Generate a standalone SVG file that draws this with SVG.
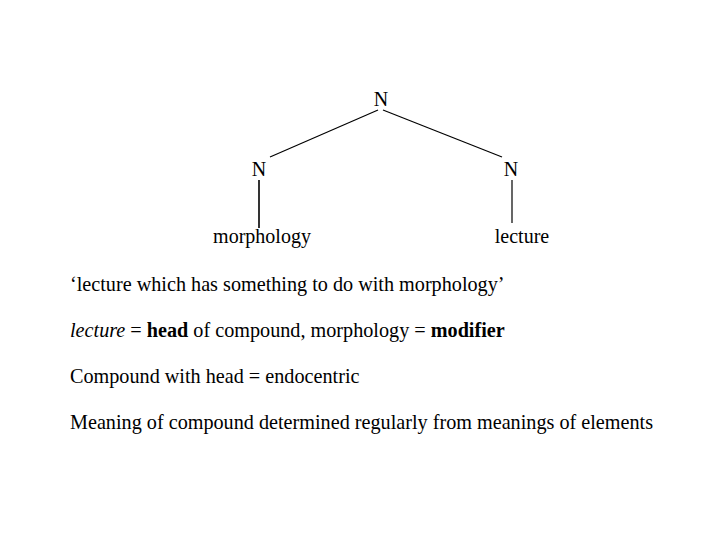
<svg xmlns="http://www.w3.org/2000/svg" width="720" height="540" viewBox="0 0 720 540">
<style>
text{font-family:"Liberation Serif","Times New Roman",serif;font-size:20px;fill:#000}
.c{text-anchor:middle}
.n{font-size:20.2px}
.e{stroke:#000;stroke-width:1.2;fill:none}
.v{stroke:#000;stroke-width:1.6;fill:none}
</style>
<rect width="720" height="540" fill="#fff"/>
<g id="connectors">
<line class="e" x1="378" y1="110" x2="270" y2="157"/>
<line class="e" x1="383" y1="110" x2="502" y2="157"/>
<line class="v" x1="259" y1="180" x2="259" y2="228"/>
<line class="e" x1="512" y1="180" x2="512" y2="223"/>
</g>
<g id="n-root"><text class="c" x="381" y="106">N</text></g>
<g id="n-left"><text class="c" x="259" y="176">N</text></g>
<g id="n-right"><text class="c" x="511" y="176">N</text></g>
<g id="leaf-morphology"><text class="c" x="262" y="243">morphology</text></g>
<g id="leaf-lecture"><text class="c" x="522" y="243">lecture</text></g>
<g id="notes">
<text class="n" x="70" y="291">‘lecture which has something to do with morphology’</text>
<text class="n" x="70" y="337"><tspan font-style="italic">lecture</tspan> = <tspan font-weight="bold">head</tspan> of compound, morphology = <tspan font-weight="bold">modifier</tspan></text>
<text class="n" x="70" y="383">Compound with head = endocentric</text>
<text class="n" x="70" y="429">Meaning of compound determined regularly from meanings of elements</text>
</g>
</svg>
